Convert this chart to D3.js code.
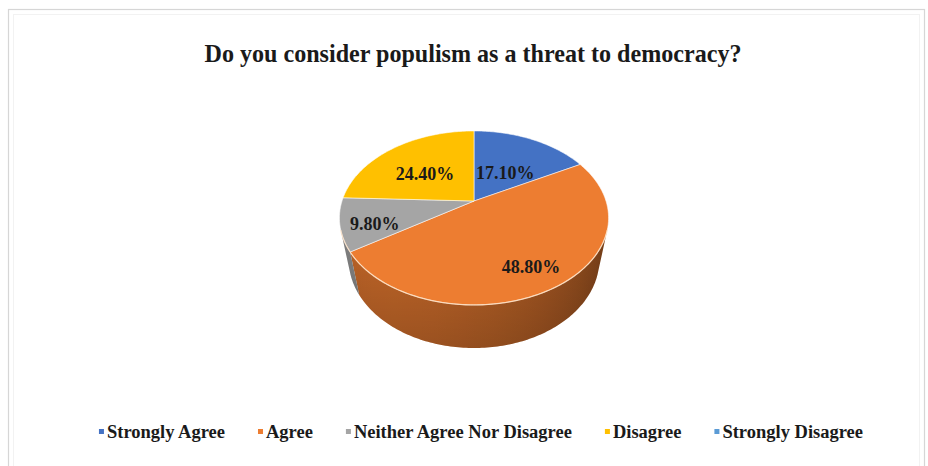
<!DOCTYPE html>
<html>
<head>
<meta charset="utf-8">
<script src="https://cdn.jsdelivr.net/npm/d3@7"></script>
<style>
  html, body { margin: 0; padding: 0; background: #fff; }
  svg { display: block; }
  text { font-family: "Liberation Serif", "Times New Roman", serif; font-weight: bold; fill: #1a1a1a; }
</style>
</head>
<body>
<svg id="chart" width="928" height="466"></svg>
<script>
// Survey answers and their shares (percent)
const categories = ["Strongly Agree", "Agree", "Neither Agree Nor Disagree", "Disagree", "Strongly Disagree"];
const shares = [17.1, 48.8, 9.8, 24.4, 0];
const colors = ["#4472C4", "#ED7D31", "#A5A5A5", "#FFC000", "#5B9BD5"];
const title = "Do you consider populism as a threat to democracy?";

// Label placement (fraction of radius) for each slice
const labelRadius = [0.5, 0.74, 0.75, 0.58, 0.5];

const svg = d3.select("#chart");

// Chart frame
svg.append("rect").attr("x", 8.5).attr("y", 9.5).attr("width", 916).attr("height", 470)
  .attr("fill", "#fff").attr("stroke", "#d6d6d6").attr("stroke-width", 1.2);
svg.append("rect").attr("x", 13.5).attr("y", 14.5).attr("width", 906).attr("height", 460)
  .attr("fill", "none").attr("stroke", "#f2f2f2").attr("stroke-width", 1);

// Title
svg.append("text").attr("x", 473).attr("y", 62)
  .attr("text-anchor", "middle").attr("font-size", 25).text(title)
  .attr("textLength", 537).attr("lengthAdjust", "spacingAndGlyphs");

// --- 3D pie: a cylinder seen in perspective from above ---
const cam = { cx: 474, cy: 201, f: 524, D: 3.97, alpha: Math.asin(0.634), depth: 0.4417 };
const ca = Math.cos(cam.alpha), sa = Math.sin(cam.alpha);

// theta clockwise from the far (top) side, r in radius units, y height (0 = top face)
function proj(theta, r, y) {
  const X = r * Math.sin(theta), Z = r * Math.cos(theta);
  const yc = y * ca + Z * sa;
  const zc = cam.D + Z * ca - y * sa;
  return [cam.cx + cam.f * X / zc, cam.cy - cam.f * yc / zc];
}

const pie = d3.pie().sort(null).value(d => d).startAngle(0).endAngle(2 * Math.PI);
const arcs = pie(shares);
const line = d3.line();

function arcPoints(a0, a1, r, y) {
  const n = Math.max(2, Math.ceil((a1 - a0) / (Math.PI / 180)));
  return d3.range(n + 1).map(i => proj(a0 + (a1 - a0) * i / n, r, y));
}

const defs = svg.append("defs");
const g = defs.append("linearGradient").attr("id", "sideShade")
  .attr("x1", 0).attr("y1", 0).attr("x2", 0).attr("y2", 1);
g.append("stop").attr("offset", 0).attr("stop-color", "#000").attr("stop-opacity", 0);
g.append("stop").attr("offset", 1).attr("stop-color", "#000").attr("stop-opacity", 0.2);

// visible part of the side wall
const visLimit = Math.acos(-1 / (cam.D * ca));
const vis0 = visLimit, vis1 = 2 * Math.PI - visLimit;

// simple light from the front-left
const light = [-0.507, -0.862];
const shadeAt = t => 0.52 + 0.3 * Math.max(0, light[0] * Math.sin(t) + light[1] * Math.cos(t));

const sideG = svg.append("g");
arcs.forEach((a, i) => {
  const s0 = Math.max(a.startAngle, vis0), s1 = Math.min(a.endAngle, vis1);
  if (s1 <= s0) return;
  const base = d3.rgb(colors[i]);
  // horizontal gradient following the shading along the rim
  const n = 24;
  const samples = d3.range(n + 1).map(k => {
    const t = s0 + (s1 - s0) * k / n;
    const fac = shadeAt(t);
    return { x: proj(t, 1, 0)[0], c: d3.rgb(base.r * fac, base.g * fac, base.b * fac).formatHex() };
  });
  const xs = d3.extent(samples, d => d.x);
  const grad = defs.append("linearGradient").attr("id", "wall" + i)
    .attr("gradientUnits", "userSpaceOnUse")
    .attr("x1", xs[0]).attr("x2", xs[1]).attr("y1", 0).attr("y2", 0);
  samples.slice().sort((p, q) => p.x - q.x).forEach(s => {
    grad.append("stop").attr("offset", (xs[1] - xs[0]) ? (s.x - xs[0]) / (xs[1] - xs[0]) : 0)
      .attr("stop-color", s.c);
  });
  const pts = arcPoints(s0, s1, 1, 0).concat(arcPoints(s0, s1, 1, -cam.depth).reverse());
  sideG.append("path").attr("d", line(pts) + "Z").attr("fill", `url(#wall${i})`);
});
// soft darkening toward the bottom of the wall
const wallPts = arcPoints(vis0, vis1, 1, 0).concat(arcPoints(vis0, vis1, 1, -cam.depth).reverse());
sideG.append("path").attr("d", line(wallPts) + "Z").attr("fill", "url(#sideShade)");

// top face
const topG = svg.append("g");
arcs.forEach((a, i) => {
  if (a.endAngle - a.startAngle <= 0) return;
  const pts = [proj(0, 0, 0)].concat(arcPoints(a.startAngle, a.endAngle, 1, 0));
  topG.append("path").attr("d", line(pts) + "Z").attr("fill", colors[i])
    .attr("stroke", "rgba(255,255,255,0.55)").attr("stroke-width", 1).attr("stroke-linejoin", "round");
});
// highlight on the front rim
topG.append("path").attr("d", line(arcPoints(vis0, vis1, 1, 0)))
  .attr("fill", "none").attr("stroke", "rgba(255,226,196,0.75)").attr("stroke-width", 1.3);

// data labels
const fmt = d3.format(".2f");
arcs.forEach((a, i) => {
  if (a.value <= 0) return;
  const mid = (a.startAngle + a.endAngle) / 2;
  const [x, y] = proj(mid, labelRadius[i], 0);
  svg.append("text").attr("x", x).attr("y", y + 5).attr("dy", "0.35em")
    .attr("text-anchor", "middle").attr("font-size", 18)
    .text(fmt(a.value) + "%");
});

// legend
const legend = svg.append("g");
const items = categories.map((c, i) => {
  const gi = legend.append("g");
  gi.append("rect").attr("width", 5).attr("height", 5).attr("y", -9).attr("fill", colors[i]);
  const t = gi.append("text").attr("x", 8).attr("y", 0).attr("font-size", 18.5).text(c);
  return { gi, w: 8 + t.node().getComputedTextLength() };
});
const gap = 33;
const total = d3.sum(items, d => d.w) + gap * (items.length - 1);
let lx = 481 - total / 2;
items.forEach(d => { d.gi.attr("transform", `translate(${lx},438)`); lx += d.w + gap; });
</script>
</body>
</html>
